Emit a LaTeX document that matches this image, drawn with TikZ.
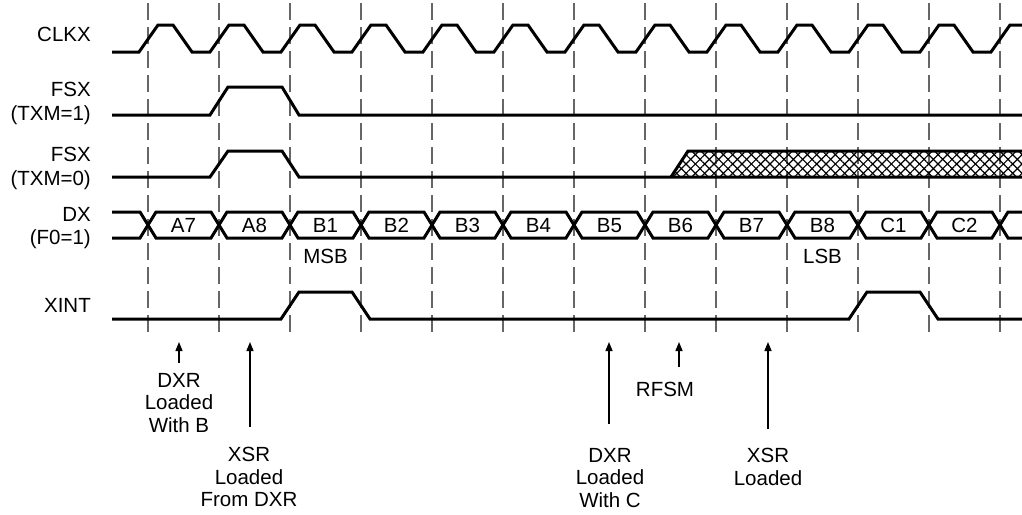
\documentclass[tikz,border=0pt]{standalone}
\usepackage{fontspec}
\setmainfont{Liberation Sans}
\usetikzlibrary{arrows.meta,patterns.meta,positioning}
\tikzset{
  >=Stealth,
  wave/.style={line width=3pt,line join=miter},
  tickline/.style={draw=black!60,line width=1.3pt,dash pattern=on 17pt off 7pt},
  siglabel/.style={anchor=north east,inner sep=0pt,align=right,
                   font=\fontsize{20.5}{23.5}\selectfont},
  bitlabel/.style={inner sep=0pt,font=\fontsize{20.5}{22}\selectfont},
  note/.style={anchor=north,inner sep=0pt,align=center,
               font=\fontsize{20.5}{22.5}\selectfont},
  arr/.style={-{Triangle[length=9pt,width=7pt]},line width=1.4pt},
  hatch/.style={pattern={Lines[angle=#1,distance=6.6pt,line width=1.2pt]}},
}
\begin{document}
\begin{tikzpicture}[x=1pt,y=-1pt]
    \useasboundingbox (0,0) rectangle (1022,514);

    % Clock markers
    \foreach \k in {0,...,12}{
      \draw[tickline] (148+71*\k,3) -- (148+71*\k,335);
    }

    % Signal names
    \node[siglabel] (clkx) at (91,27)  {CLKX};
    \node[siglabel] (fsxa) at (91,82)  {FSX\\(TXM=1)};
    \node[siglabel] (fsxb) at (91,147) {FSX\\(TXM=0)};
    \node[siglabel] (dx)   at (91,207) {DX\\(F0=1)};
    \node[siglabel] (xint) at (91,298) {XINT};

    % CLKX
    \begin{scope}
      \clip (0,0) rectangle (1022,514);
      \draw[wave] (112,52) \foreach \k in {0,...,12}{
        -- (139+71*\k,52) -- (158+71*\k,25) -- (173+71*\k,25) -- (192+71*\k,52)};
    \end{scope}

    % FSX (TXM=1)
    \draw[wave] (112,115) -- (210,115) -- (228,87) -- (282,87)
                -- (299,115) -- (1022,115);

    % FSX (TXM=0)
    \fill[hatch=45]  (671,177) -- (688,151) -- (1022,151) -- (1022,177) -- cycle;
    \fill[hatch=-45] (671,177) -- (688,151) -- (1022,151) -- (1022,177) -- cycle;
    \draw[wave] (112,177) -- (210,177) -- (228,151) -- (282,151)
                -- (299,177) -- (1022,177);
    \draw[wave] (671,177) -- (688,151) -- (1022,151);

    % DX
    \draw[wave] (112,212) -- (140,212) -- (148,225) -- (140,238) -- (112,238);
    \foreach \k in {0,...,11}{
      \draw[wave] (148+71*\k,225) -- (156+71*\k,212) -- (211+71*\k,212)
                  -- (219+71*\k,225) -- (211+71*\k,238) -- (156+71*\k,238) -- cycle;
    }
    \draw[wave] (1022,212) -- (1008,212) -- (1000,225) -- (1008,238) -- (1022,238);
    \foreach \b [count=\i from 0] in {A7,A8,B1,B2,B3,B4,B5,B6,B7,B8,C1,C2}{
      \node[bitlabel] (bit\b) at (183.5+71*\i,225.5) {\b};
    }
    \node[bitlabel,below=16pt of bitB1] (msb) {MSB};
    \node[bitlabel,below=16pt of bitB8] (lsb) {LSB};

    % XINT
    \draw[wave] (112,319) -- (281,319) -- (299,292) -- (352,292) -- (370,319)
                -- (849,319) -- (867,292) -- (920,292) -- (938,319) -- (1022,319);

    % Events
    \node[note] (dxrb) at (179,373) {DXR\\Loaded\\With B};
    \node[note] (xsrd) at (249,447) {XSR\\Loaded\\From DXR};
    \node[note] (dxrc) at (610,448) {DXR\\Loaded\\With C};
    \node[note] (rfsm) at (665,382) {RFSM};
    \node[note] (xsrl) at (768,448) {XSR\\Loaded};
    \coordinate (pdxrb) at (179,342);
    \coordinate (pxsrd) at (250,342);
    \coordinate (pdxrc) at (609,342);
    \coordinate (prfsm) at (679,342);
    \coordinate (pxsrl) at (768,342);
    \draw[arr,shorten <=10pt] (dxrb.north) -- (pdxrb);
    \draw[arr,shorten <=20pt] (xsrd.north -| pxsrd) -- (pxsrd);
    \draw[arr,shorten <=24pt] (dxrc.north -| pdxrc) -- (pdxrc);
    \draw[arr,shorten <=15pt] (rfsm.north -| prfsm) -- (prfsm);
    \draw[arr,shorten <=19pt] (xsrl.north) -- (pxsrl);
\end{tikzpicture}
\end{document}
